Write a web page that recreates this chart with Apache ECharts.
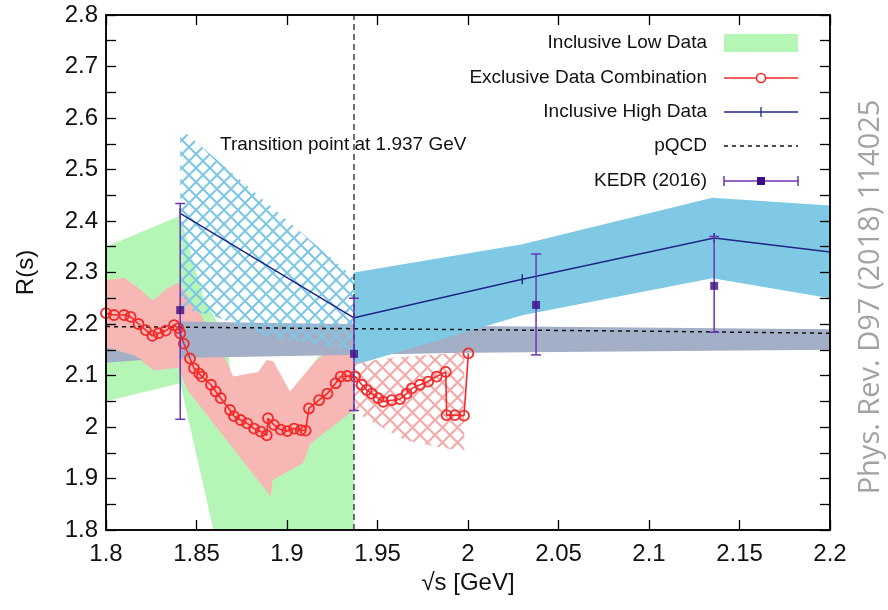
<!DOCTYPE html>
<html>
<head>
<meta charset="utf-8">
<title>R(s) transition</title>
<script src="https://cdn.jsdelivr.net/npm/echarts@6/dist/echarts.min.js"></script>
<style>
  html, body { margin: 0; padding: 0; background: #fff; }
  #wrap { position: relative; width: 888px; height: 610px; }
  #chart, #frame { position: absolute; left: 0; top: 0; width: 888px; height: 610px; }
  #frame { pointer-events: none; }
</style>
</head>
<body>
<div id="wrap">
  <div id="chart"></div>
  <div id="frame"></div>
</div>
<script>
// ---- data ----
var transitionX = 1.937;

// Inclusive Low Data band (green)
var lowUpper = [[1.8, 2.35], [1.841, 2.41], [1.854, 2.25], [1.862, 2.2], [1.868, 2.14], [1.8695, 2.05], [1.89, 2.04], [1.9026, 2.065], [1.917, 2.135], [1.937, 2.2]];
var lowLower = [[1.8, 2.05], [1.841, 2.085], [1.86, 1.79], [1.937, 1.75]];

// Exclusive combination band (pink, solid part)
var exclUpper = [[1.8, 2.285], [1.81, 2.29], [1.818, 2.27], [1.826, 2.245], [1.834, 2.27], [1.84, 2.28], [1.852, 2.22], [1.865, 2.14], [1.8703, 2.098], [1.884, 2.107], [1.8888, 2.13], [1.8925, 2.127], [1.9017, 2.069], [1.9155, 2.127], [1.9283, 2.162], [1.937, 2.172]];
var exclLower = [[1.8, 2.155], [1.815, 2.14], [1.8265, 2.11], [1.84, 2.115], [1.845, 2.072], [1.891, 1.865], [1.892, 1.897], [1.909, 1.93], [1.913, 1.968], [1.937, 2.033]];

// Exclusive band above transition (pink hatch)
var exclHatchUpper = [[1.937, 2.125], [1.96, 2.135], [1.998, 2.145]];
var exclHatchLower = [[1.937, 2.03], [1.965, 1.975], [1.985, 1.96], [1.995, 1.955], [1.998, 1.955]];

// pQCD band (grey)
var qcdUpper = [[1.8, 2.155], [1.815, 2.14], [1.82, 2.13], [1.8405, 2.13], [1.841, 2.205], [2.0, 2.196], [2.2, 2.19]];
var qcdLower = [[1.8, 2.125], [1.82, 2.13], [1.8405, 2.13], [1.841, 2.134], [2.0, 2.144], [2.2, 2.15]];

// Inclusive High band (blue solid) and its extension below transition (blue hatch)
var highUpper = [[1.937, 2.30], [2.03, 2.355], [2.135, 2.445], [2.2, 2.43]];
var highLower = [[1.937, 2.12], [2.03, 2.217], [2.135, 2.289], [2.2, 2.25]];
var highHatchUpper = [[1.841, 2.58], [1.937, 2.29]];
var highHatchLower = [[1.841, 2.23], [1.86, 2.215], [1.89, 2.175], [1.937, 2.15]];

// Exclusive Data Combination curve
var exclX = [1.8, 1.8044, 1.81, 1.8136, 1.818, 1.822, 1.8256, 1.829, 1.833, 1.8376, 1.840, 1.841, 1.843, 1.8464, 1.8486, 1.8514, 1.853, 1.858, 1.8606, 1.8634, 1.8685, 1.8707, 1.8744, 1.878, 1.8818, 1.8855, 1.8888, 1.8895, 1.8928, 1.8965, 1.9002, 1.9039, 1.9076, 1.9103, 1.9121, 1.9177, 1.9223, 1.9269, 1.9297, 1.9333, 1.9376, 1.9413, 1.944, 1.9468, 1.9504, 1.9532, 1.9578, 1.9624, 1.9661, 1.9689, 1.9735, 1.978, 1.9827, 1.9877, 1.9882, 1.9928, 1.9978, 2.0002];
var exclY = [2.221, 2.2175, 2.2175, 2.214, 2.20, 2.188, 2.177, 2.182, 2.187, 2.198, 2.192, 2.182, 2.162, 2.133, 2.114, 2.104, 2.098, 2.082, 2.069, 2.056, 2.033, 2.021, 2.0136, 2.007, 1.997, 1.991, 1.984, 2.017, 2.004, 1.995, 1.992, 1.997, 1.994, 1.993, 2.036, 2.052, 2.065, 2.085, 2.098, 2.099, 2.098, 2.082, 2.072, 2.065, 2.056, 2.049, 2.052, 2.054, 2.065, 2.075, 2.082, 2.088, 2.098, 2.107, 2.023, 2.023, 2.022, 2.143];

// Inclusive High Data curve
var highX = [1.841, 1.937, 2.03, 2.136, 2.2];
var highY = [2.415, 2.212, 2.287, 2.367, 2.34];

// pQCD
var qcdX = [1.8, 1.9, 2.0, 2.1, 2.2];
var qcdY = [2.195, 2.192, 2.189, 2.186, 2.182];

// KEDR (2016)
var kedrX = [1.841, 1.937, 2.0376, 2.136];
var kedrY = [2.227, 2.142, 2.237, 2.274];
var kedrLo = [2.015, 2.032, 2.14, 2.184];
var kedrHi = [2.434, 2.25, 2.336, 2.37];

var legendNames = ['Inclusive Low Data', 'Exclusive Data Combination', 'Inclusive High Data', 'pQCD', 'KEDR (2016)'];

// ---- styling ----
var FONT = 'Liberation Sans, Arial, Helvetica, sans-serif';
var GREEN = '#b5f6b6', PINK = '#f7b7b5', GREY = '#a2afc6', BLUE = '#80c9e5';
var RED = '#f42a2a', NAVY = '#1f2686', PURPLE = '#6b35b5', SQUARE = '#3c0c84';
var X_MIN = 1.8, X_MAX = 2.2, Y_MIN = 1.8, Y_MAX = 2.8, STEP = 0.05, TICK_LEN = 10;
var GRID = { left: 106, right: 58, top: 15, bottom: 80 };

function hatch(color, size, width) {
  var c = document.createElement('canvas');
  c.width = c.height = size;
  var g = c.getContext('2d');
  g.strokeStyle = color;
  g.lineWidth = width;
  for (var k = -1; k <= 1; k++) {
    g.beginPath();
    g.moveTo(k * size - size, -size); g.lineTo(k * size + 2 * size, 2 * size);
    g.moveTo(k * size + 2 * size, -size); g.lineTo(k * size - size, 2 * size);
    g.stroke();
  }
  return { image: c, repeat: 'repeat' };
}

function band(upper, lower, fill, z) {
  var pts = upper.concat(lower.slice().reverse());
  return {
    type: 'custom', z: z, clip: true, silent: true,
    data: pts,
    renderItem: function (params, api) {
      if (params.dataIndex !== 0) return null;
      return {
        type: 'polygon',
        shape: { points: pts.map(function (p) { return api.coord(p); }) },
        style: { fill: fill }
      };
    }
  };
}

function pairs(xs, ys) {
  return xs.map(function (x, i) { return [x, ys[i]]; });
}

function axisLine() { return { show: true, onZero: false, lineStyle: { color: '#000', width: 1.5 } }; }
function axisTick() { return { show: true, inside: true, length: TICK_LEN, lineStyle: { color: '#000', width: 1.3 } }; }

var legendY = [43, 78, 112, 146, 181];
var lx0 = 724, lx1 = 798, lxm = 761;
var legendGraphics = legendNames.map(function (n, i) {
  return {
    type: 'text', x: 707, y: legendY[i], z: 100,
    style: { text: n, fill: '#111', font: '19px ' + FONT, align: 'right', textAlign: 'right', verticalAlign: 'middle', textVerticalAlign: 'middle' }
  };
});
legendGraphics.push(
  { type: 'rect', shape: { x: lx0, y: 34, width: lx1 - lx0, height: 18 }, style: { fill: GREEN }, z: 100 },
  { type: 'line', shape: { x1: lx0, y1: legendY[1], x2: lx1, y2: legendY[1] }, style: { stroke: RED, lineWidth: 1.5 }, z: 100 },
  { type: 'circle', shape: { cx: lxm, cy: legendY[1], r: 4.5 }, style: { fill: '#fff', stroke: RED, lineWidth: 1.6 }, z: 101 },
  { type: 'line', shape: { x1: lx0, y1: legendY[2], x2: lx1, y2: legendY[2] }, style: { stroke: NAVY, lineWidth: 1.5 }, z: 100 },
  { type: 'line', shape: { x1: lxm, y1: legendY[2] - 5, x2: lxm, y2: legendY[2] + 5 }, style: { stroke: NAVY, lineWidth: 1.3 }, z: 100 },
  { type: 'line', shape: { x1: lx0, y1: legendY[3], x2: lx1, y2: legendY[3] }, style: { stroke: '#111', lineWidth: 1.5, lineDash: [4, 4] }, z: 100 },
  { type: 'line', shape: { x1: lx0, y1: legendY[4], x2: lx1, y2: legendY[4] }, style: { stroke: PURPLE, lineWidth: 1.5 }, z: 100 },
  { type: 'line', shape: { x1: lx0, y1: legendY[4] - 5, x2: lx0, y2: legendY[4] + 5 }, style: { stroke: PURPLE, lineWidth: 1.5 }, z: 100 },
  { type: 'line', shape: { x1: lx1, y1: legendY[4] - 5, x2: lx1, y2: legendY[4] + 5 }, style: { stroke: PURPLE, lineWidth: 1.5 }, z: 100 },
  { type: 'rect', shape: { x: lxm - 4, y: legendY[4] - 4, width: 8, height: 8 }, style: { fill: SQUARE }, z: 101 },
  {
    type: 'text', x: 220, y: 145, z: 100,
    style: { text: 'Transition point at 1.937 GeV', fill: '#111', font: '19px ' + FONT, align: 'left', textAlign: 'left', verticalAlign: 'middle', textVerticalAlign: 'middle' }
  },
  {
    type: 'text', x: 871, y: 297, rotation: Math.PI / 2, z: 100,
    style: { text: 'Phys. Rev. D97 (2018) 114025', fill: '#a3a3a3', font: '29px Open Sans, Noto Sans, sans-serif', align: 'center', textAlign: 'center', verticalAlign: 'middle', textVerticalAlign: 'middle' }
  }
);

var chart = echarts.init(document.getElementById('chart'));
chart.setOption({
  animation: false,
  backgroundColor: '#fff',
  grid: GRID,
  xAxis: [{
    type: 'value', min: X_MIN, max: X_MAX, interval: STEP, position: 'bottom', z: 12,
    name: '√s [GeV]', nameLocation: 'middle', nameGap: 40,
    nameTextStyle: { fontSize: 24, color: '#111', fontFamily: FONT },
    axisLine: axisLine(),
    axisTick: axisTick(),
    axisLabel: { fontSize: 24, color: '#111', fontFamily: FONT, margin: 12, formatter: function (v) { return String(+v.toFixed(2)); } },
    splitLine: { show: false }
  }, {
    type: 'value', min: X_MIN, max: X_MAX, interval: STEP, position: 'top', z: 12,
    axisLine: axisLine(),
    axisTick: axisTick(),
    axisLabel: { show: false },
    splitLine: { show: false }
  }],
  yAxis: [{
    type: 'value', min: Y_MIN, max: Y_MAX, interval: STEP, position: 'left', z: 12,
    name: 'R(s)', nameLocation: 'middle', nameGap: 68,
    nameTextStyle: { fontSize: 24, color: '#111', fontFamily: FONT },
    axisLine: axisLine(),
    axisTick: axisTick(),
    axisLabel: {
      fontSize: 24, color: '#111', fontFamily: FONT, margin: 8,
      formatter: function (v) { return Math.round(v * 100) % 10 === 0 ? String(+v.toFixed(1)) : ''; }
    },
    splitLine: { show: false }
  }, {
    type: 'value', min: Y_MIN, max: Y_MAX, interval: STEP, position: 'right', z: 12,
    axisLine: axisLine(),
    axisTick: axisTick(),
    axisLabel: { show: false },
    splitLine: { show: false }
  }],
  graphic: legendGraphics,
  series: [
    band(lowUpper, lowLower, GREEN, 1),
    band(exclUpper, exclLower, PINK, 2),
    band(qcdUpper, qcdLower, GREY, 3),
    band(highUpper, highLower, BLUE, 4),
    band(highHatchUpper, highHatchLower, hatch('#7ec8e6', 14, 2.1), 5),
    band(exclHatchUpper, exclHatchLower, hatch('#f6abab', 15, 2.2), 5),
    {
      name: 'Transition', type: 'line', z: 6, silent: true,
      data: [[transitionX, Y_MIN], [transitionX, Y_MAX]], symbol: 'none',
      lineStyle: { color: '#222', width: 1.3, type: [6, 4] }
    },
    {
      name: 'pQCD', type: 'line', z: 6, silent: true,
      data: pairs(qcdX, qcdY), symbol: 'none',
      lineStyle: { color: '#111', width: 1.5, type: [4, 4] }
    },
    {
      name: 'Exclusive Data Combination', type: 'line', z: 7, silent: true,
      data: pairs(exclX, exclY), symbol: 'circle', symbolSize: 10, showAllSymbol: true,
      itemStyle: { color: 'rgba(255,255,255,0)', borderColor: RED, borderWidth: 1.8 },
      lineStyle: { color: RED, width: 1.6 }
    },
    {
      name: 'Inclusive High Data', type: 'line', z: 8, silent: true,
      data: pairs(highX, highY), symbol: 'rect', symbolSize: [1.5, 10],
      itemStyle: { color: NAVY },
      lineStyle: { color: NAVY, width: 1.5 }
    },
    {
      name: 'KEDR (2016) errors', type: 'custom', z: 9, clip: true, silent: true,
      data: kedrX.map(function (x, i) { return [x, kedrLo[i], kedrHi[i]]; }),
      renderItem: function (params, api) {
        var lo = api.coord([api.value(0), api.value(1)]);
        var hi = api.coord([api.value(0), api.value(2)]);
        var w = 5;
        var st = { stroke: PURPLE, lineWidth: 1.5 };
        return {
          type: 'group', children: [
            { type: 'line', shape: { x1: lo[0], y1: lo[1], x2: hi[0], y2: hi[1] }, style: st },
            { type: 'line', shape: { x1: lo[0] - w, y1: lo[1], x2: lo[0] + w, y2: lo[1] }, style: st },
            { type: 'line', shape: { x1: hi[0] - w, y1: hi[1], x2: hi[0] + w, y2: hi[1] }, style: st }
          ]
        };
      }
    },
    {
      name: 'KEDR (2016)', type: 'scatter', z: 10, silent: true,
      data: pairs(kedrX, kedrY), symbol: 'rect', symbolSize: 8,
      itemStyle: { color: SQUARE }
    }
  ]
});

// transparent overlay chart with the same grid: only the inward ticks of the frame
function tickAxis(position, min, max) {
  return {
    type: 'value', min: min, max: max, interval: STEP, position: position,
    axisLine: { show: true, onZero: false, lineStyle: { color: '#000', width: 1.5 } },
    axisTick: { show: true, inside: true, length: TICK_LEN },
    axisLabel: { show: false },
    splitLine: { show: false }
  };
}
var frame = echarts.init(document.getElementById('frame'));
frame.setOption({
  animation: false,
  grid: GRID,
  xAxis: [tickAxis('bottom', X_MIN, X_MAX), tickAxis('top', X_MIN, X_MAX)],
  yAxis: [tickAxis('left', Y_MIN, Y_MAX), tickAxis('right', Y_MIN, Y_MAX)],
  series: [{ type: 'line', data: [], silent: true }]
});
</script>
</body>
</html>
